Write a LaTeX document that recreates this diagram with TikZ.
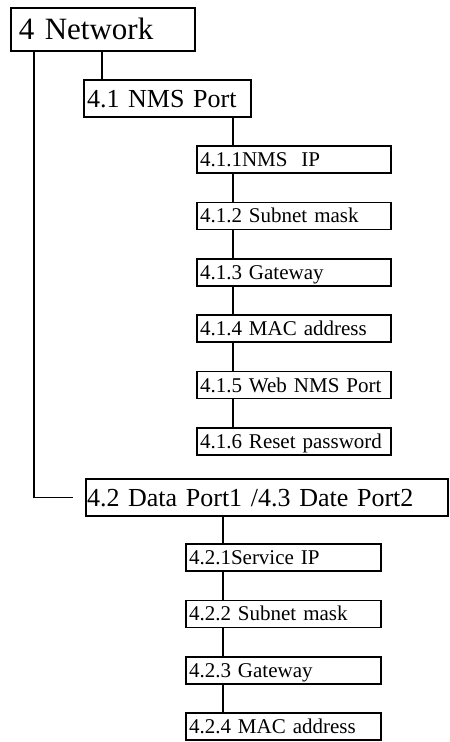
\documentclass[tikz,border=0pt]{standalone}
\usepackage{fontspec}
\setmainfont{Liberation Serif}
\usetikzlibrary{positioning}

\begin{document}
\begin{tikzpicture}[x=1pt,y=-1pt,node distance=29.4pt,line width=1.6pt]
  \tikzstyle{box}=[draw,anchor=north west,align=left,inner ysep=0pt,outer sep=0pt,text depth=0pt]
  \tikzstyle{topbox}=[box,minimum height=43pt,inner xsep=8pt,text width=168pt,
                      text height=20.3pt,font=\fontsize{31}{31}\selectfont]
  \tikzstyle{portbox}=[box,minimum height=37pt,text height=17pt,font=\fontsize{26}{26}\selectfont]
  \tikzstyle{leaf}=[box,minimum height=27pt,inner xsep=3pt,text height=13.8pt,
                    font=\fontsize{21}{21}\selectfont]
  \useasboundingbox (0,0) rectangle (450,742);

  \node[topbox] (net) at (11,8) {4 Network};
  \node[portbox,inner xsep=3pt,text width=161pt] (nms) [below right=29pt and 73pt of net.south west] {4.1 NMS Port};
  \node[leaf,text width=188pt] (a1) [below right=29pt and 113pt of nms.south west] {4.1.1NMS\ \ IP};
  \node[leaf,text width=188pt] (a2) [below=of a1] {4.1.2 Subnet mask};
  \node[leaf,text width=188pt] (a3) [below=of a2] {4.1.3 Gateway};
  \node[leaf,text width=188pt] (a4) [below=of a3] {4.1.4 MAC address};
  \node[leaf,text width=188pt] (a5) [below=of a4] {4.1.5 Web NMS Port};
  \node[leaf,text width=188pt] (a6) [below=of a5] {4.1.6 Reset password};
  \node[portbox,inner xsep=1pt,text width=360pt] (data) at (86,479) {4.2 Data Port1 /4.3 Date Port2};
  \node[leaf,text width=189pt] (b1) [below right=28pt and 100pt of data.south west] {4.2.1Service IP};
  \node[leaf,text width=189pt] (b2) [below=of b1] {4.2.2 Subnet mask};
  \node[leaf,text width=189pt] (b3) [below=of b2] {4.2.3 Gateway};
  \node[leaf,text width=189pt] (b4) [below=of b3] {4.2.4 MAC address};

  % trunk lines
  \draw ([xshift=91pt]net.south west) -- ([xshift=18pt]nms.north west);
  \draw ([xshift=23pt]net.south west) |- ([xshift=-13pt]data.west);
  \draw ([xshift=149pt]nms.south west) -- ([xshift=36pt]a1.north west);
  \draw ([xshift=137pt]data.south west) -- ([xshift=37pt]b1.north west);
  % chains under each port
  \foreach \i/\j in {1/2,2/3,3/4,4/5,5/6}
    \draw ([xshift=36pt]a\i.south west) -- ([xshift=36pt]a\j.north west);
  \foreach \i/\j in {1/2,2/3,3/4}
    \draw ([xshift=37pt]b\i.south west) -- ([xshift=37pt]b\j.north west);
\end{tikzpicture}
\end{document}
